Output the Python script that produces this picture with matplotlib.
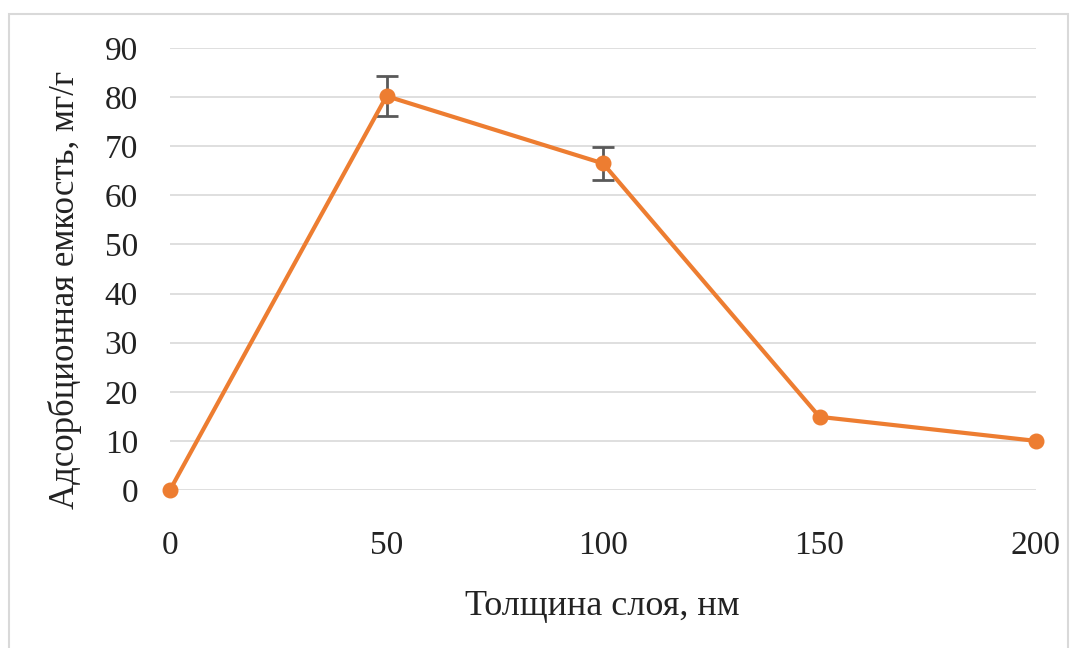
import matplotlib
matplotlib.use("Agg")
import matplotlib.pyplot as plt
from matplotlib.patches import Rectangle

thickness = [0, 50, 100, 150, 200]
capacity = [0, 80.2, 66.5, 14.9, 10.0]
errors = [0, 4.0, 3.4, 0, 0]
yticks = [0, 10, 20, 30, 40, 50, 60, 70, 80, 90]
xticks = [0, 50, 100, 150, 200]

plt.rcParams['font.family'] = ['Liberation Serif', 'DejaVu Serif']

fig = plt.figure(figsize=(10.78, 6.48), dpi=100)
W, H = 1078, 648
ax = fig.add_axes([170 / W, 1 - 490 / H, (1036 - 170) / W, (490 - 48) / H])

fig.patches.append(Rectangle((9 / W, -0.01), (1068 - 9) / W, 1 - 14 / H + 0.01,
                             transform=fig.transFigure, fill=False,
                             edgecolor='#D9D9D9', linewidth=1.5))

idx = [i for i, e in enumerate(errors) if e > 0]
ax.errorbar([thickness[i] for i in idx], [capacity[i] for i in idx],
            yerr=[errors[i] for i in idx],
            fmt='none', ecolor='#595959', elinewidth=2, capsize=8, capthick=2, zorder=3)
ax.plot(thickness, capacity, color='#ED7D31', linewidth=3, marker='o',
        markersize=10.5, zorder=4)

ax.set_xlim(0, 200)
ax.set_ylim(0, 90)
ax.set_yticks(yticks)
ax.set_xticks(xticks)
ax.grid(axis='y', color='#D9D9D9', linewidth=1.2)
ax.set_axisbelow(True)
for s in ax.spines.values():
    s.set_visible(False)
ax.tick_params(axis='both', length=0, labelsize=24, colors='#222222')
ax.tick_params(axis='y', pad=23)
ax.tick_params(axis='x', pad=29)

fig.text(602 / W, 1 - 615 / H, 'Толщина слоя, нм', fontsize=26, color='#222222',
         ha='center', va='baseline')
fig.text(65 / W, 1 - 290 / H, 'Адсорбционная емкость, мг/г', fontsize=25,
         color='#222222', ha='center', va='center', rotation=90)

for line in ax.lines:
    line.set_clip_on(False)
for coll in ax.collections:
    coll.set_clip_on(False)

fig.savefig('out.png', dpi=100)
